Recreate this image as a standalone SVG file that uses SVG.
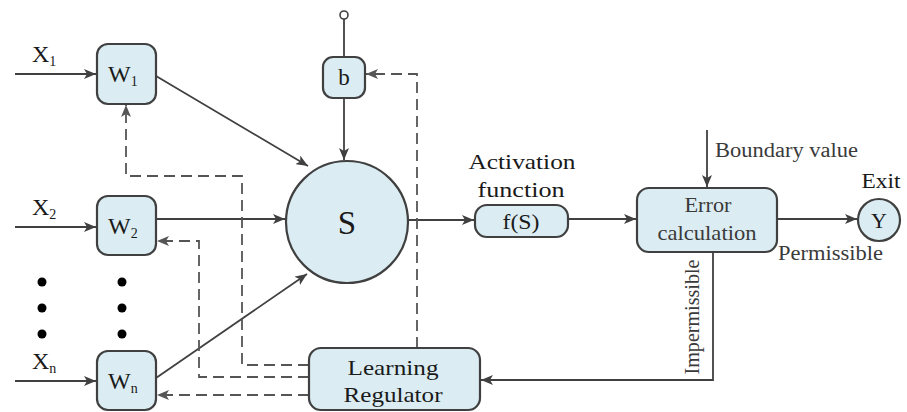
<svg xmlns="http://www.w3.org/2000/svg" width="907" height="412" viewBox="0 0 907 412" font-family="'Liberation Serif', serif">
<style>
.box{fill:#dbedf3;stroke:#404040;stroke-width:2.2}
.ln{fill:none;stroke:#404040;stroke-width:1.8}
.ds{fill:none;stroke:#555;stroke-width:1.8;stroke-dasharray:11 6}
text{font-family:"Liberation Serif",serif;fill:#1a1a1a}
.ctr{text-anchor:middle}
.gray{fill:#3a3a3a}
.dot{fill:#000}
</style>
<defs>
<marker id="arr" viewBox="0 0 12 10" refX="12" refY="5" markerWidth="12" markerHeight="10" markerUnits="userSpaceOnUse" orient="auto">
<path d="M0,0 L12,5 L0,10 L3,5 z" fill="#404040"/>
</marker>
<marker id="arrd" viewBox="0 0 12 10" refX="12" refY="5" markerWidth="12" markerHeight="10" markerUnits="userSpaceOnUse" orient="auto">
<path d="M0,0 L12,5 L0,10 L3,5 z" fill="#555"/>
</marker>
</defs>

<g id="connectors">
<path class="ln" d="M15,74 H96" marker-end="url(#arr)"/>
<path class="ln" d="M15,227 H96" marker-end="url(#arr)"/>
<path class="ln" d="M15,381 H96" marker-end="url(#arr)"/>
<path class="ln" d="M156,76 L308,166" marker-end="url(#arr)"/>
<path class="ln" d="M156,219 H285" marker-end="url(#arr)"/>
<path class="ln" d="M156,378 L307,274" marker-end="url(#arr)"/>
<path class="ln" d="M344,19 V57"/>
<path class="ln" d="M344,98 V160" marker-end="url(#arr)"/>
<path class="ln" d="M408,220 H474" marker-end="url(#arr)"/>
<path class="ln" d="M568,219 H636" marker-end="url(#arr)"/>
<path class="ln" d="M707,130 V187" marker-end="url(#arr)"/>
<path class="ln" d="M777,219 H857" marker-end="url(#arr)"/>
<path class="ln" d="M713,252 V380 H481" marker-end="url(#arr)"/>
<path class="ds" d="M309,365 H242 V176 H126 V105" marker-end="url(#arrd)"/>
<path class="ds" d="M309,377 H199 V241 H157" marker-end="url(#arrd)"/>
<path class="ds" d="M309,395 H157" marker-end="url(#arrd)"/>
<path class="ds" d="M417,348 V74 H366" marker-end="url(#arrd)"/>
<text class="gray" x="715" y="157" font-size="20" textLength="143" lengthAdjust="spacingAndGlyphs">Boundary value</text>
<text class="gray" x="778" y="260" font-size="20" textLength="105" lengthAdjust="spacingAndGlyphs">Permissible</text>
<text class="gray ctr" transform="translate(699,317) rotate(-90)" font-size="20" textLength="115" lengthAdjust="spacingAndGlyphs">Impermissible</text>
</g>

<g id="inputs">
<text x="32" y="62" font-size="24">X<tspan font-size="14" dy="4">1</tspan></text>
<text x="32" y="215" font-size="24">X<tspan font-size="14" dy="4">2</tspan></text>
<text x="32" y="369" font-size="24">X<tspan font-size="14" dy="4">n</tspan></text>
<circle class="dot" cx="42" cy="282" r="4.5"/>
<circle class="dot" cx="42" cy="308" r="4.5"/>
<circle class="dot" cx="42" cy="334" r="4.5"/>
<circle class="dot" cx="122" cy="282" r="4.5"/>
<circle class="dot" cx="122" cy="308" r="4.5"/>
<circle class="dot" cx="122" cy="334" r="4.5"/>
</g>

<g id="w1">
<rect class="box" x="97" y="44" width="59" height="60" rx="11"/>
<text x="108" y="82" font-size="24">W<tspan font-size="14" dy="4">1</tspan></text>
</g>
<g id="w2">
<rect class="box" x="97" y="196" width="59" height="59" rx="11"/>
<text x="108" y="234" font-size="24">W<tspan font-size="14" dy="4">2</tspan></text>
</g>
<g id="wn">
<rect class="box" x="97" y="351" width="59" height="59" rx="11"/>
<text x="108" y="389" font-size="24">W<tspan font-size="14" dy="4">n</tspan></text>
</g>

<g id="bias">
<circle cx="344" cy="15" r="4" fill="#fff" stroke="#404040" stroke-width="1.6"/>
<rect class="box" x="323" y="57" width="42" height="41" rx="10"/>
<text class="ctr" x="344" y="85" font-size="23">b</text>
</g>

<g id="sum">
<circle class="box" cx="347" cy="222" r="61"/>
<text class="ctr" x="347" y="234" font-size="33">S</text>
</g>

<g id="activation">
<text class="ctr" x="522" y="169" font-size="21" textLength="107" lengthAdjust="spacingAndGlyphs">Activation</text>
<text class="ctr" x="521" y="197" font-size="21" textLength="87" lengthAdjust="spacingAndGlyphs">function</text>
<rect class="box" x="475" y="205" width="93" height="32" rx="12"/>
<text class="ctr" x="521" y="229" font-size="21" textLength="37" lengthAdjust="spacingAndGlyphs">f(S)</text>
</g>

<g id="error">
<rect class="box" x="637" y="188" width="140" height="64" rx="12"/>
<text class="ctr gray" x="708" y="212" font-size="21" textLength="47" lengthAdjust="spacingAndGlyphs">Error</text>
<text class="ctr gray" x="707" y="240" font-size="21" textLength="99" lengthAdjust="spacingAndGlyphs">calculation</text>
</g>

<g id="exit">
<text class="ctr" x="881" y="188" font-size="21" textLength="39" lengthAdjust="spacingAndGlyphs">Exit</text>
<circle class="box" cx="879" cy="220" r="21"/>
<text class="ctr" x="879" y="228" font-size="22">Y</text>
</g>

<g id="regulator">
<rect class="box" x="309" y="348" width="171" height="62" rx="12"/>
<text class="ctr" x="393" y="375" font-size="21" textLength="91" lengthAdjust="spacingAndGlyphs">Learning</text>
<text class="ctr" x="393" y="402" font-size="21" textLength="99" lengthAdjust="spacingAndGlyphs">Regulator</text>
</g>
</svg>
